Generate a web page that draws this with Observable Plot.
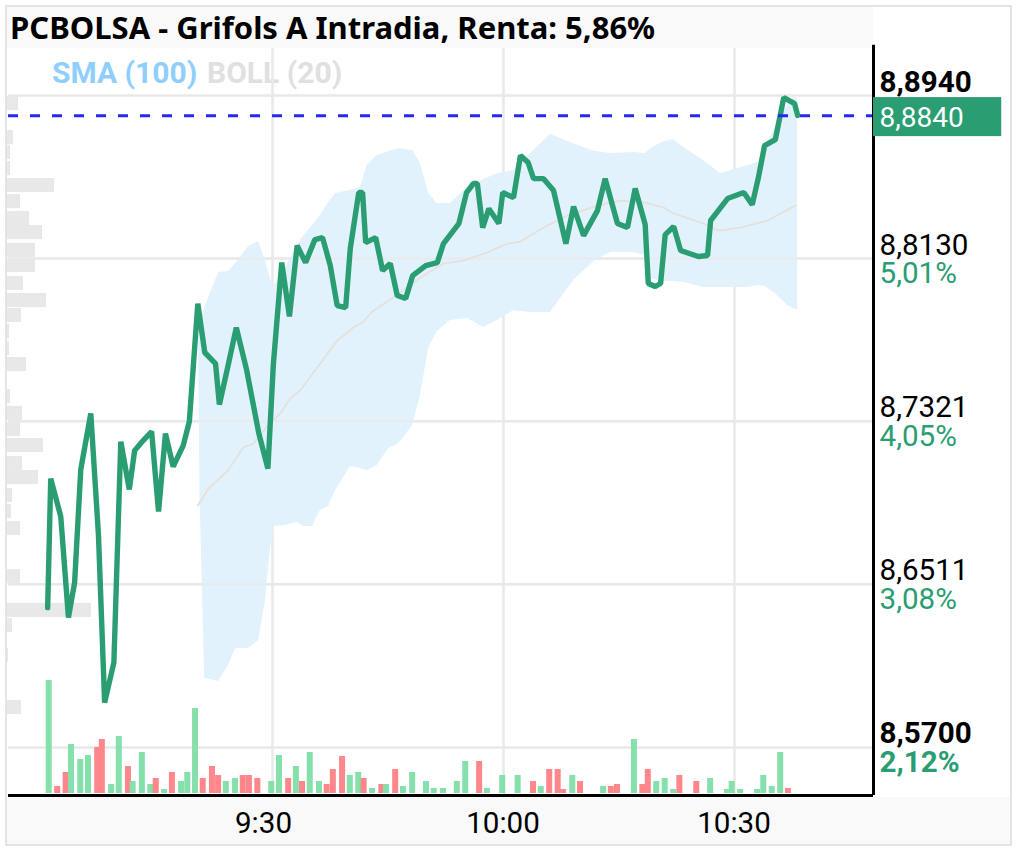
<!DOCTYPE html>
<html><head><meta charset="utf-8">
<script src="https://cdn.jsdelivr.net/npm/d3@7"></script>
<script src="https://cdn.jsdelivr.net/npm/@observablehq/plot@0.6"></script>
<style>
html,body{margin:0;padding:0;background:#fff}
#c{position:relative;width:1017px;height:851px;overflow:hidden;background:#fff}
#c svg{position:absolute;left:0;top:0;background:transparent}
.b{position:absolute}
</style></head><body>
<div id="c">
<div class="b" style="left:7px;top:7px;width:866px;height:41px;background:#f9f9f9"></div>
<div class="b" style="left:7px;top:797px;width:1005px;height:48px;background:#f9f9f9"></div>
<div class="b" style="left:5px;top:5px;width:1003px;height:837px;border:2.5px solid #e4e4e4"></div>
<div class="b" style="left:10px;top:6px;font:700 31px 'Noto Sans';color:#000;white-space:nowrap">PCBOLSA - Grifols A Intradia, Renta: 5,86%</div>
<div class="b" style="left:52px;top:55px;font:700 30px Roboto;color:#90cffc;white-space:nowrap">SMA (100)</div>
<div class="b" style="left:207px;top:55px;font:700 30px Roboto;color:#e0e0e0;white-space:nowrap">BOLL (20)</div>
</div>
<script>
// Minutes after 9:00 and price for the intraday line
const lineTime = [0.8,1.2,2.5,3.5,4.3,5.1,6.4,7.4,8.2,9.4,10.3,11.4,12.1,13.2,14.3,15.2,16.1,17.1,18.4,19.2,20.3,21.2,22.6,23.1,24.2,25.3,26.6,27.3,28.2,29.4,30.1,31.2,32.2,33.2,34.3,35.5,36.5,37.5,38.4,39.5,40.1,41.2,41.7,42.1,43.4,44.3,45.3,46.2,47.3,48.2,49.9,51.4,52.2,54.2,55.2,56.1,56.6,57.3,58.1,59.4,59.9,61.3,62.2,63.2,63.9,65.2,66.5,68.1,69.1,70.4,72.2,73.2,74.8,76.1,77.1,78.4,78.8,79.7,80.4,81.0,82.1,83.0,85.3,86.5,86.9,89.1,91.2,92.3,93.1,93.9,95.3,96.4,97.8,98.2];
const linePrice = [8.6395,8.7036,8.6848,8.6346,8.6520,8.7081,8.7360,8.6753,8.5923,8.6122,8.7220,8.6982,8.7176,8.7225,8.7270,8.6872,8.7260,8.7096,8.7200,8.7320,8.7906,8.7663,8.7608,8.7404,8.7593,8.7787,8.7583,8.7444,8.7265,8.7086,8.7598,8.8110,8.7842,8.8194,8.8110,8.8224,8.8234,8.8095,8.7896,8.7886,8.8180,8.8458,8.8458,8.8209,8.8234,8.8070,8.8105,8.7946,8.7931,8.8045,8.8095,8.8110,8.8204,8.8304,8.8458,8.8503,8.8503,8.8284,8.8378,8.8304,8.8458,8.8433,8.8642,8.8607,8.8527,8.8527,8.8468,8.8204,8.8388,8.8244,8.8368,8.8527,8.8304,8.8284,8.8478,8.8299,8.8006,8.7991,8.8006,8.8249,8.8289,8.8170,8.8140,8.8145,8.8319,8.8428,8.8458,8.8398,8.8532,8.8691,8.8721,8.8930,8.8900,8.8841];
// Bollinger band
const bandTime = [20.4,20.6,21.2,23.0,24.3,25.2,26.9,28.2,29.1,29.5,30.1,31.7,33.2,34.0,35.2,36.2,37.3,38.2,40.1,41.4,42.3,43.6,45.1,46.4,48.2,49.2,50.3,51.4,53.1,55.3,57.4,59.2,61.3,63.5,66.1,69.1,71.9,73.9,76.9,78.4,79.1,80.8,82.1,83.4,86.0,88.2,91.7,93.1,94.0,95.1,96.0,96.9,97.7,98.2];
const bandUpper = [8.7722,8.7812,8.7886,8.8060,8.8065,8.8105,8.8190,8.8214,8.8120,8.8060,8.7986,8.8080,8.8194,8.8239,8.8294,8.8344,8.8408,8.8453,8.8468,8.8483,8.8592,8.8642,8.8662,8.8677,8.8667,8.8602,8.8453,8.8403,8.8403,8.8483,8.8523,8.8552,8.8567,8.8652,8.8746,8.8701,8.8662,8.8652,8.8657,8.8652,8.8677,8.8711,8.8721,8.8682,8.8617,8.8552,8.8592,8.8607,8.8682,8.8766,8.8831,8.8895,8.8930,8.8925];
const bandLower = [8.7697,8.6927,8.6042,8.6028,8.6107,8.6192,8.6192,8.6231,8.6430,8.6604,8.6798,8.6803,8.6818,8.6798,8.6798,8.6877,8.6897,8.6977,8.7096,8.7086,8.7076,8.7101,8.7186,8.7210,8.7300,8.7449,8.7688,8.7767,8.7822,8.7832,8.7787,8.7822,8.7871,8.7862,8.7862,8.8021,8.8120,8.8160,8.8160,8.8145,8.8030,8.8016,8.8016,8.8011,8.7986,8.7986,8.7986,8.7996,8.7991,8.7961,8.7931,8.7896,8.7881,8.7876];
// Moving average
const midTime = [20.3,21.7,24.2,26.2,27.5,29.4,31.0,32.3,33.6,36.2,38.4,40.5,41.7,43.1,45.7,49.2,52.2,54.8,57.9,60.5,62.2,65.2,68.3,72.2,75.2,78.4,80.8,82.1,86.0,87.9,90.8,94.3,97.9];
const midPrice = [8.6902,8.6987,8.7076,8.7191,8.7210,8.7300,8.7360,8.7434,8.7474,8.7608,8.7722,8.7787,8.7812,8.7871,8.7936,8.8035,8.8105,8.8120,8.8160,8.8204,8.8214,8.8284,8.8344,8.8393,8.8418,8.8408,8.8383,8.8354,8.8304,8.8269,8.8284,8.8319,8.8393];
// Traded volume per bar: time, amount, up (1) or down (0)
const volTime = [1.0,2.1,3.2,3.9,5.1,6.1,7.3,7.9,9.1,10.1,11.3,11.9,13.1,14.2,14.9,16.0,17.0,18.2,19.0,20.0,21.0,22.2,23.0,24.0,25.2,26.2,27.0,28.1,29.9,30.9,32.1,33.1,33.9,34.9,36.1,37.1,37.9,39.1,40.1,41.2,41.9,43.0,44.2,44.8,46.0,47.0,48.2,50.0,51.0,52.2,54.0,55.1,56.9,57.9,59.9,61.9,63.9,64.9,66.0,67.1,67.8,69.0,70.0,73.0,74.0,74.8,77.0,78.1,78.8,79.9,81.0,82.1,82.9,85.1,86.9,89.1,89.7,90.8,93.0,93.8,94.9,96.0,97.0];
const volAmount = [113,7,21,49,34,38,46,54,9,57,27,12,41,9,15,4,21,12,21,85,15,27,18,12,15,18,18,15,12,38,15,27,12,41,12,9,24,37,18,21,15,5,9,9,24,7,21,12,5,5,12,32,32,5,18,18,12,7,24,24,4,18,12,7,7,9,54,9,24,12,15,4,18,12,15,4,12,4,4,18,7,41,5];
const volUp = [1,0,0,1,1,1,0,0,1,1,0,1,1,1,0,1,0,1,1,1,0,0,0,1,1,0,0,0,1,1,0,1,0,1,1,0,0,0,1,1,0,1,0,1,0,1,1,1,1,1,1,1,0,1,1,1,0,1,0,0,0,1,0,1,0,0,1,0,0,1,1,1,0,0,1,1,1,1,1,1,1,1,0];
// Volume profile by price level
const profilePrice = [8.8900,8.8731,8.8657,8.8577,8.8493,8.8413,8.8329,8.8259,8.8170,8.8095,8.8006,8.7921,8.7847,8.7767,8.7683,8.7603,8.7444,8.7360,8.7280,8.7201,8.7111,8.7041,8.6952,8.6873,8.6788,8.6549,8.6381,8.6306,8.6157,8.5898];
const profileAmount = [11,6,3,3,47,13,22,35,28,28,16,39,14,2,2,19,3,15,13,36,15,31,5,4,13,13,84,5,1,14];
// Axis labels
const priceTicks = [8.8940,8.8130,8.7321,8.6511,8.5700];
const priceLabels = ["8,8940","8,8130","8,7321","8,6511","8,5700"];
const pctLabels = ["","5,01%","4,05%","3,08%","2,12%"];
const priceBold = [true,false,false,false,true];
const timeTicks = [30,60,90];
const timeLabels = ["9:30","10:00","10:30"];
const lastPrice = 8.8840, lastLabel = "8,8840";

const GREEN="#2a9d73", GRID="#e9e9e9";
const xDomain=[-4.286,108.05], yDomain=[8.5461,8.9174];
const W=1017,H=851;
const base={width:W,height:H,marginLeft:8,marginRight:144,marginTop:48,marginBottom:56,
  x:{domain:xDomain,axis:null},y:{domain:yDomain,axis:null},style:{background:"transparent"}};
const c=document.getElementById("c");
const ticks=priceTicks.map((p,i)=>({p,label:priceLabels[i],pct:pctLabels[i],bold:priceBold[i]}));
const times=timeTicks.map((t,i)=>({t,label:timeLabels[i]}));
const boldT=ticks.filter(d=>d.bold), normalT=ticks.filter(d=>!d.bold);

// profile (under everything)
c.appendChild(Plot.plot({width:W,height:H,marginLeft:7,marginRight:W-107,marginTop:48,marginBottom:56,
  x:{domain:[0,100],axis:null},y:{domain:yDomain,axis:null},style:{background:"transparent"},
  marks:[Plot.rect(profilePrice.map((p,i)=>({p,a:profileAmount[i]})),
    {x1:0,x2:"a",y1:d=>d.p-0.0035,y2:d=>d.p+0.0035,fill:"#e8e8e8"})]}));

const font={fontFamily:"Roboto",fontSize:29.6};
const tx={x:xDomain[1],y:"p",dx:6,textAnchor:"start",...font};
c.appendChild(Plot.plot({...base,marks:[
  Plot.ruleY(priceTicks,{stroke:GRID,strokeWidth:2.5}),
  Plot.ruleX(timeTicks,{stroke:GRID,strokeWidth:2.5}),
  Plot.areaY(bandTime.map((t,i)=>({t,u:bandUpper[i],l:bandLower[i]})),{x:"t",y1:"l",y2:"u",fill:"#e1f2fd"}),
  Plot.ruleY(priceTicks.slice(1,4),{stroke:GRID,strokeWidth:2,strokeOpacity:0.9}),
  Plot.line(midTime.map((t,i)=>({t,p:midPrice[i]})),{x:"t",y:"p",stroke:"#e4e0dc",strokeWidth:1.8}),
  Plot.line(lineTime.map((t,i)=>({t,p:linePrice[i]})),{x:"t",y:"p",stroke:GREEN,strokeWidth:5.4,strokeLinejoin:"bevel"}),
  Plot.ruleY([lastPrice],{stroke:"#2626ff",strokeWidth:3,strokeDasharray:"10,12"}),
  Plot.ruleX([xDomain[1]],{stroke:"#000",strokeWidth:3,y1:yDomain[0],y2:8.9190}),
  Plot.ruleY([yDomain[0]],{stroke:"#000",strokeWidth:3}),
  Plot.rect([{a:xDomain[1],b:124.7,lo:8.8736,hi:8.8930}],{x1:"a",x2:"b",y1:"lo",y2:"hi",fill:GREEN}),
  Plot.text([{p:lastPrice,label:lastLabel}],{...tx,dy:2,text:"label",fill:"#fff",fontSize:28}),
  Plot.text(normalT,{...tx,dy:-13.5,text:"label",fill:"#000"}),
  Plot.text(boldT,{...tx,dy:-13.5,text:"label",fill:"#000",fontWeight:700}),
  Plot.text(normalT.filter(d=>d.pct),{...tx,dy:15,text:"pct",fill:GREEN}),
  Plot.text(boldT.filter(d=>d.pct),{...tx,dy:15,text:"pct",fill:GREEN,fontWeight:700}),
  Plot.text(times.slice(0,1),{x:"t",frameAnchor:"bottom",dy:37,dx:-9,text:"label",fill:"#000",...font}),
  Plot.text(times.slice(1),{x:"t",frameAnchor:"bottom",dy:37,dx:-0.5,text:"label",fill:"#000",...font})
]}));

// volume bars (on top)
c.appendChild(Plot.plot({width:W,height:H,marginLeft:8,marginRight:144,marginTop:593,marginBottom:58,
  x:{domain:xDomain,axis:null},y:{domain:[0,200],axis:null},style:{background:"transparent"},
  marks:[Plot.rectY(volTime.map((t,i)=>({t,v:volAmount[i],up:volUp[i]})),
    {x1:d=>d.t-0.39,x2:d=>d.t+0.39,y:"v",fill:d=>d.up?"#85e0ac":"#ff868b"})]}));
</script>
</body></html>
